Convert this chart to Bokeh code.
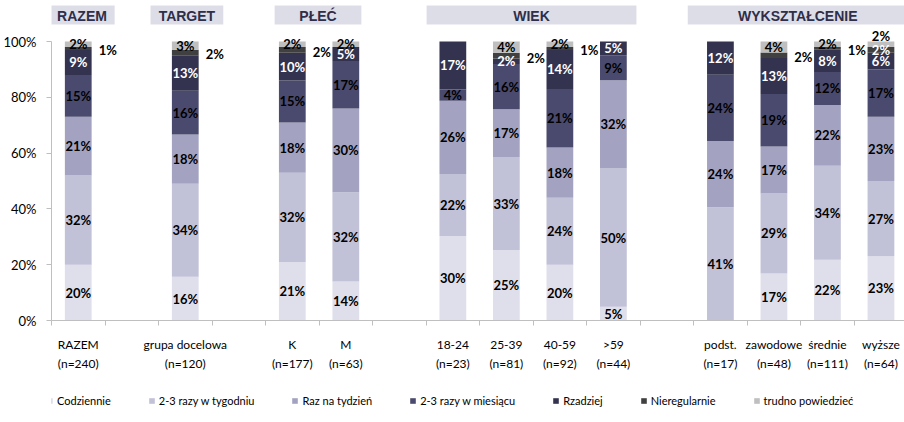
import numpy as np
from bokeh.plotting import figure
from bokeh.layouts import column
from bokeh.models import (Range1d, FixedTicker, NumeralTickFormatter, Legend,
                          LegendItem, ColumnDataSource)
from bokeh.core.properties import value
from bokeh.embed import file_html
from bokeh.resources import INLINE

# ---------------- data ----------------
groups = ["RAZEM", "TARGET", "PŁEĆ", "WIEK", "WYKSZTAŁCENIE"]
group_members = [["RAZEM"], ["grupa docelowa"], ["K", "M"],
                 ["18-24", "25-39", "40-59", ">59"],
                 ["podst.", "zawodowe", "średnie", "wyższe"]]
sample_n = [240, 120, 177, 63, 23, 81, 92, 44, 17, 48, 111, 64]

series = ["Codziennie", "2-3 razy w tygodniu", "Raz na tydzień",
          "2-3 razy w miesiącu", "Rzadziej", "Nieregularnie", "trudno powiedzieć"]
codziennie = [20, 16, 21, 14, 30, 25, 20, 5, 0, 17, 22, 23]
tygodniu = [32, 34, 32, 32, 22, 33, 24, 50, 41, 29, 34, 27]
raz_tydzien = [21, 18, 18, 30, 26, 17, 18, 32, 24, 17, 22, 23]
miesiacu = [15, 16, 15, 17, 4, 16, 21, 9, 24, 19, 12, 17]
rzadziej = [9, 13, 10, 5, 17, 2, 14, 5, 12, 13, 8, 6]
nieregularnie = [1, 2, 2, 0, 0, 2, 1, 0, 0, 2, 1, 2]
trudno = [2, 3, 2, 2, 0, 4, 2, 0, 0, 4, 2, 2]

y_ticks = [0, 0.2, 0.4, 0.6, 0.8, 1.0]

colors = ["#DFDFEB", "#C1C1D7", "#A3A3C1", "#4A4A6E", "#33334F", "#404040", "#BFBFBF"]
label_colors = ["#000000", "#000000", "#000000", "#000000", "#FFFFFF", "#000000", "#000000"]

# header boxes (layout, in slot units)
header_left = [-0.54, 1.35, 3.67, 6.51, 11.39]
header_right = [0.68, 2.71, 5.29, 10.43, 15.5]

# ---------------- layout of slots ----------------
names = [m for g in group_members for m in g]
xs = []
pos = 0
for members in group_members:
    for _ in members:
        xs.append(pos)
        pos += 1
    pos += 1  # one empty slot between groups
boundaries = [b - 0.5 for b in range(0, pos - 1)]

data = np.array([codziennie, tygodniu, raz_tydzien, miesiacu, rzadziej,
                 nieregularnie, trudno], dtype=float)
frac = data / data.sum(axis=0)
tops = np.cumsum(frac, axis=0)
bottoms = tops - frac

p = figure(width=904, height=380, output_backend="svg", toolbar_location=None,
           x_range=Range1d(-0.5, 15.44), y_range=Range1d(0, 1.147),
           min_border_left=51, min_border_right=0, min_border_top=0,
           min_border_bottom=60)
p.xgrid.visible = False
p.ygrid.visible = False
p.outline_line_color = None
p.background_fill_color = "white"

bar_w = 0.5
for k, name in enumerate(series):
    src = ColumnDataSource(dict(x=xs, bottom=bottoms[k], top=tops[k]))
    p.vbar(x="x", bottom="bottom", top="top", width=bar_w, source=src,
           fill_color=colors[k], line_color=None)

# data labels
c = dict(x=[], y=[], text=[], color=[], yo=[])
l = dict(x=[], y=[], text=[], color=[], yo=[])
last = len(xs) - 1
for i in range(len(xs)):
    for k in range(len(series)):
        v = data[k, i]
        if v <= 0:
            continue
        mid = (bottoms[k, i] + tops[k, i]) / 2
        txt = f"{int(v)}%"
        if k == 5 and i != last:
            l["x"].append(xs[i] + bar_w / 2); l["y"].append(mid)
            l["text"].append(txt); l["color"].append("#000000"); l["yo"].append(2)
        elif k == 5 and i == last:
            c["x"].append(xs[i]); c["y"].append(mid)
            c["text"].append(txt); c["color"].append("#FFFFFF"); c["yo"].append(0)
        elif k == 6 and i == last:
            c["x"].append(xs[i]); c["y"].append(tops[k, i])
            c["text"].append(txt); c["color"].append("#000000"); c["yo"].append(-6)
        else:
            c["x"].append(xs[i]); c["y"].append(mid)
            c["text"].append(txt); c["color"].append(label_colors[k]); c["yo"].append(0)

p.text(x="x", y="y", text="text", text_color="color", y_offset="yo",
       source=ColumnDataSource(c), text_align="center", text_baseline="middle",
       text_font=value("Lato"), text_font_style="bold", text_font_size="13px")
p.text(x="x", y="y", text="text", text_color="color", y_offset="yo", x_offset=7,
       source=ColumnDataSource(l), text_align="left", text_baseline="middle",
       text_font=value("Lato"), text_font_style="bold", text_font_size="13px")

# group headers
p.quad(left=header_left, right=header_right, bottom=1.061, top=1.129,
       fill_color="#DDDDE7", line_color=None)
hx = [(a + b) / 2 for a, b in zip(header_left, header_right)]
p.text(x=hx, y=[1.093] * len(hx), text=groups, text_align="center",
       text_baseline="middle", text_color="#2E2E4A",
       text_font=value("Liberation Sans"), text_font_style="bold",
       text_font_size="14px")

# axes
yax = p.yaxis[0]
yax.ticker = FixedTicker(ticks=y_ticks)
yax.formatter = NumeralTickFormatter(format="0%")
yax.bounds = (0, 1)
yax.axis_line_color = "#BFBFBF"
yax.major_tick_line_color = "#BFBFBF"
yax.major_tick_out = 5
yax.major_tick_in = 0
yax.minor_tick_line_color = None
yax.major_label_standoff = 10
yax.major_label_text_font = "Lato"
yax.major_label_text_font_size = "13px"
yax.major_label_text_color = "#000000"

xax = p.xaxis[0]
xax.ticker = FixedTicker(ticks=xs, minor_ticks=boundaries)
xax.major_label_overrides = {x: f"{nm}\n(n={n})" for x, nm, n in zip(xs, names, sample_n)}
xax.axis_line_color = "#BFBFBF"
xax.major_tick_line_color = None
xax.major_tick_out = 5
xax.major_tick_in = 0
xax.minor_tick_line_color = "#BFBFBF"
xax.minor_tick_out = 5
xax.minor_tick_in = 0
xax.major_label_standoff = 11
xax.major_label_text_font = "Lato"
xax.major_label_text_font_size = "12px"
xax.major_label_text_color = "#000000"
xax.major_label_text_line_height = 1.32

# legend strip below the chart (legend glyphs only; zero-height proxy bars)
lf = figure(width=904, height=42, output_backend="svg", toolbar_location=None,
            x_range=Range1d(0, 1), y_range=Range1d(0, 1),
            x_axis_location=None, y_axis_location=None,
            min_border_left=0, min_border_right=0, min_border_top=0,
            min_border_bottom=0)
lf.xgrid.visible = False
lf.ygrid.visible = False
lf.outline_line_color = None
items = []
for k, name in enumerate(series):
    proxy = ColumnDataSource(dict(x=[0.0], bottom=[0.0], top=[0.0]))
    r = lf.vbar(x="x", bottom="bottom", top="top", width=0.0, source=proxy,
                fill_color=colors[k], line_color=None)
    items.append(LegendItem(label=name, renderers=[r]))
legend = Legend(items=items, orientation="horizontal", location=(-5, 15),
                glyph_width=7, glyph_height=7, label_standoff=4, spacing=37,
                label_height=12, padding=0, margin=0,
                label_text_font="Lato", label_text_font_size="11px",
                label_text_color="#000000",
                border_line_alpha=0, background_fill_alpha=0)
lf.add_layout(legend, "center")

layout = column(p, lf, spacing=0)
open("out.html", "w").write(file_html(layout, INLINE))
